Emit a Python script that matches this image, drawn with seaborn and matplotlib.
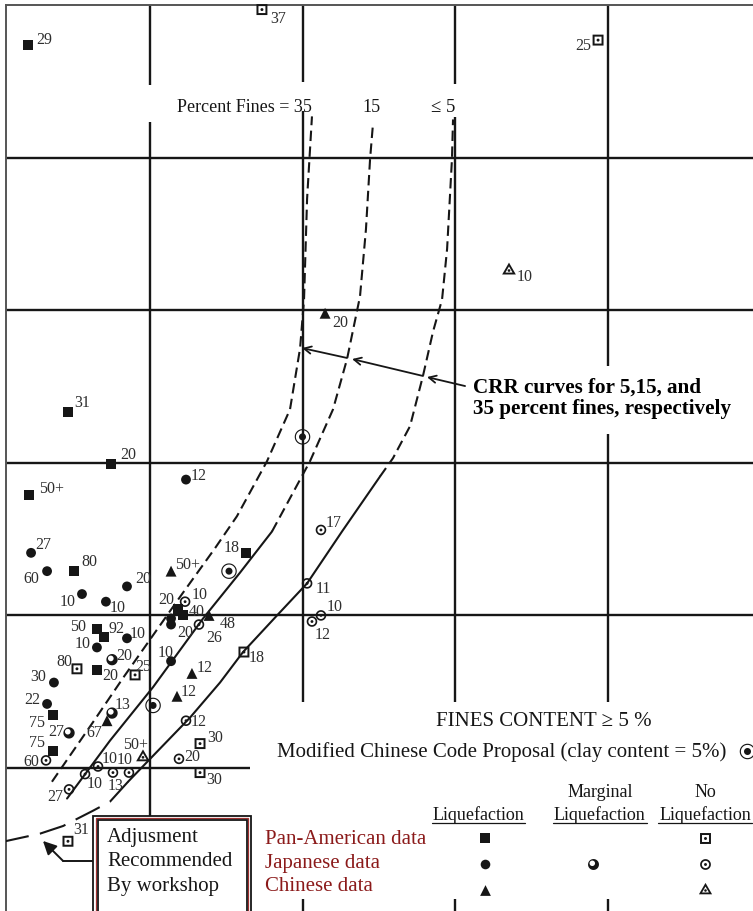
import matplotlib
matplotlib.use('Agg')
import numpy as np
import pandas as pd
import matplotlib.pyplot as plt
from matplotlib.path import Path
from matplotlib.patches import Rectangle
import seaborn as sns

# ---- values: (N1)60, CRR, fines content label ----
pan_liq_n = [2.00, 4.62, 7.44, 2.07, 5.02, 16.30, 11.84, 12.16, 6.52, 6.98, 6.52, 3.64, 3.64]
pan_liq_crr = [0.574, 0.333, 0.299, 0.279, 0.229, 0.241, 0.204, 0.200, 0.191, 0.186, 0.164, 0.135, 0.111]
pan_liq_fc = ["29", "31", "20", "50+", "80", "18", "20", "40", "50", "92", "20", "75", "75"]

pan_no_n = [17.34, 39.38, 5.21, 9.02, 16.16, 13.28, 13.28, 4.62]
pan_no_crr = [0.597, 0.577, 0.165, 0.161, 0.176, 0.116, 0.097, 0.052]
pan_no_fc = ["37", "25", "80", "25", "18", "30", "30", "31"]

jp_liq_n = [12.36, 2.20, 3.25, 8.49, 5.54, 7.11, 11.38, 11.38, 8.49, 6.52, 11.38, 3.70, 3.25]
jp_liq_crr = [0.289, 0.241, 0.229, 0.219, 0.214, 0.209, 0.198, 0.194, 0.185, 0.179, 0.170, 0.156, 0.142]
jp_liq_fc = ["12", "27", "60", "20", "10", "10", "", "20", "10", "10", "10", "30", "22"]

jp_marg_n = [7.51, 7.51, 4.69]
jp_marg_crr = [0.171, 0.136, 0.123]
jp_marg_fc = ["20", "13", "27"]

jp_no_n = [21.21, 20.30, 21.21, 20.62, 12.30, 13.21, 3.18, 12.36, 6.59, 5.74, 7.57, 8.62, 11.90, 4.69]
jp_no_crr = [0.256, 0.221, 0.200, 0.196, 0.209, 0.194, 0.105, 0.131, 0.101, 0.096, 0.097, 0.097, 0.106, 0.086]
jp_no_fc = ["17", "11", "10", "12", "10", "26", "60", "12", "10", "10", "13", "10", "20", "27"]

cn_liq_n = [21.48, 11.38, 13.87, 12.75, 11.77, 7.18]
cn_liq_crr = [0.398, 0.229, 0.200, 0.162, 0.147, 0.131]
cn_liq_fc = ["20", "50+", "48", "12", "12", "67"]

cn_no_n = [33.54, 9.54]
cn_no_crr = [0.426, 0.107]
cn_no_fc = ["10", "50+"]

code_n = [20.0, 15.18, 10.20]
code_crr = [0.317, 0.229, 0.141]

# CRR curves (35 %, 15 %, <=5 % fines) and the workshop adjustment
fc35_n = [3.57, 6.26, 8.30, 10.20, 12.03, 14.26, 15.70, 17.67, 19.18, 19.84, 20.10, 20.30, 20.62]
fc35_crr = [0.091, 0.130, 0.160, 0.187, 0.213, 0.244, 0.265, 0.301, 0.335, 0.375, 0.407, 0.473, 0.527]
fc15_solid_n = [4.56, 7.38, 10.20, 13.48, 15.90, 18.00]
fc15_solid_crr = [0.080, 0.118, 0.153, 0.198, 0.228, 0.255]
fc15_dash_n = [18.00, 20.49, 22.00, 22.92, 23.77, 24.16, 24.43, 24.62]
fc15_dash_crr = [0.255, 0.301, 0.335, 0.368, 0.409, 0.453, 0.499, 0.522]
fc5_solid_n = [8.56, 10.20, 12.62, 14.59, 16.10, 18.33, 20.30, 22.59, 25.08]
fc5_solid_crr = [0.091, 0.108, 0.133, 0.156, 0.176, 0.200, 0.221, 0.255, 0.291]
fc5_dash_n = [25.08, 25.93, 27.05, 27.90, 28.56, 29.15, 29.48, 29.80, 29.87]
fc5_dash_crr = [0.291, 0.303, 0.324, 0.357, 0.386, 0.407, 0.440, 0.499, 0.525]
adj_n = [8.56, 7.38, 6.26, 4.30, 2.79, 0.50]
adj_crr = [0.091, 0.078, 0.072, 0.062, 0.057, 0.052]

# label placement (pixels right, pixels down from the marker)
label_offsets = {
    "pan_liq": [(16, -6), (14, -10), (17, -10), (22, -7), (15, -10), (-14, -6), (-12, -10),
                (14, -4), (-19, -3), (13, -9), (13, 5), (-16, 7), (-16, -9)],
    "pan_no": [(16, 8), (-15, 5), (-13, -8), (8, -9), (13, 5), (15, -7), (14, 6), (13, -12)],
    "jp_liq": [(13, -5), (12, -9), (-16, 7), (16, -8), (-14, 7), (12, 5), (0, 0), (14, 7),
               (11, -5), (-14, -4), (-5, -9), (-16, -7), (-15, -5)],
    "jp_marg": [(12, -5), (11, -9), (-13, -2)],
    "jp_no": [(13, -8), (16, 5), (14, -9), (11, 12), (15, -8), (15, 12), (-15, 1), (13, 0),
              (12, -8), (10, 9), (3, 12), (-4, -14), (13, -3), (-14, 7)],
    "cn_liq": [(15, 9), (17, -7), (19, 8), (13, -6), (12, -5), (-13, 11)],
    "cn_no": [(16, 5), (-7, -13)],
}


def ring(n, r, cx=0.0, cy=0.0, rot=90.0, cw=False):
    t = np.deg2rad(rot) + np.linspace(0, 2 * np.pi, n, endpoint=False)
    if cw:
        t = t[::-1]
    return np.column_stack([cx + r * np.cos(t), cy + r * np.sin(t)])


def compound(*rings):
    verts, codes = [], []
    for pts in rings:
        verts.extend(pts.tolist())
        verts.append(pts[0].tolist())
        codes.extend([Path.MOVETO] + [Path.LINETO] * (len(pts) - 1) + [Path.CLOSEPOLY])
    return Path(verts, codes)


sq_dot = compound(ring(4, 1.414, rot=45), ring(4, 0.90, rot=45, cw=True), ring(32, 0.27))
circ_dot = compound(ring(48, 1.0), ring(48, 0.68, cw=True), ring(32, 0.27))
tri_dot = compound(ring(3, 1.0), ring(3, 0.52, cw=True), ring(24, 0.17))
bullseye = compound(ring(64, 1.0), ring(64, 0.85, cw=True), ring(48, 0.45))
marginal = compound(ring(48, 1.0), ring(48, 0.5, cx=-0.22, cy=0.22, cw=True))

sns.set_style("white")
plt.rcParams["font.family"] = ["Liberation Serif", "DejaVu Serif"]
INK = "#161616"

fig = plt.figure(figsize=(7.53, 9.12), dpi=100)
ax = fig.add_axes([6 / 753, 0, 747 / 753, 906 / 912])
ax.set_xlim(0.557, 49.54)
ax.set_ylim(0.0063, 0.6)
ax.set_xticks([])
ax.set_yticks([])
for side in ("right", "bottom"):
    ax.spines[side].set_visible(False)
for side in ("left", "top"):
    ax.spines[side].set_color("#555555")
    ax.spines[side].set_linewidth(1.4)

# grid, broken where the labels and the legend sit
vx = [10, 10, 20, 20, 20, 30, 30, 30, 40, 40, 40]
vlo = [0.0686, 0.5476, 0.1433, 0.5495, 0.0, 0.1433, 0.5482, 0.0, 0.1433, 0.3634, 0.0]
vhi = [0.5233, 0.60, 0.5305, 0.60, 0.0142, 0.5266, 0.60, 0.0142, 0.3189, 0.60, 0.0142]
ax.vlines(vx, vlo, vhi, color=INK, lw=1.7, zorder=1)
ax.hlines([0.2, 0.3, 0.4, 0.5], 0.557, 49.6, color=INK, lw=1.7, zorder=1)
ax.hlines(0.1, 0.557, 16.56, color=INK, lw=1.7, zorder=1)

# curves
dash = (0, (5, 2.6))
long_dash = (0, (13, 5.5))
curves = [
    (fc35_n, fc35_crr, dash),
    (fc15_solid_n, fc15_solid_crr, "-"),
    (fc15_dash_n, fc15_dash_crr, dash),
    (fc5_solid_n, fc5_solid_crr, "-"),
    (fc5_dash_n, fc5_dash_crr, dash),
    (adj_n, adj_crr, long_dash),
]
for cn, cc, ls in curves:
    cdf = pd.DataFrame({"N1_60": cn, "CRR": cc})
    sns.lineplot(data=cdf, x="N1_60", y="CRR", sort=False, estimator=None, color=INK,
                 linewidth=1.5, linestyle=ls, ax=ax, zorder=3)

# data points
groups = [
    ("pan_liq", pan_liq_n, pan_liq_crr, pan_liq_fc, "s", 52),
    ("pan_no", pan_no_n, pan_no_crr, pan_no_fc, sq_dot, 62),
    ("jp_liq", jp_liq_n, jp_liq_crr, jp_liq_fc, "o", 50),
    ("jp_marg", jp_marg_n, jp_marg_crr, jp_marg_fc, marginal, 66),
    ("jp_no", jp_no_n, jp_no_crr, jp_no_fc, circ_dot, 58),
    ("cn_liq", cn_liq_n, cn_liq_crr, cn_liq_fc, "^", 62),
    ("cn_no", cn_no_n, cn_no_crr, cn_no_fc, tri_dot, 130),
]
for key, gn, gc, gf, mk, size in groups:
    gdf = pd.DataFrame({"N1_60": gn, "CRR": gc, "fines": gf})
    sns.scatterplot(data=gdf, x="N1_60", y="CRR", marker=mk, s=size, color=INK,
                    edgecolor="none", linewidth=0, ax=ax, legend=False, zorder=6, clip_on=False)
    for (x, y, t), (dx, dy) in zip(gdf.itertuples(index=False), label_offsets[key]):
        if t:
            ax.annotate(t, (x, y), xytext=(dx, -dy), textcoords="offset pixels",
                        ha="center", va="center", fontsize=11.5, color="#2e2e2e", zorder=7)

code_df = pd.DataFrame({"N1_60": code_n, "CRR": code_crr})
sns.scatterplot(data=code_df, x="N1_60", y="CRR", marker=bullseye, s=125, color=INK,
                edgecolor="none", linewidth=0, ax=ax, legend=False, zorder=6)
ax.set_xlabel("")
ax.set_ylabel("")

# curve labels
ax.text(20.62, 0.5338, "Percent Fines = 35", ha="right", va="center", fontsize=13, color=INK)
ax.text(24.5, 0.5338, "15", ha="center", va="center", fontsize=13, color=INK)
ax.text(29.2, 0.5338, "\u2264 5", ha="center", va="center", fontsize=13.5, color=INK)

ax.text(31.18, 0.3430, "CRR curves for 5,15, and\n35 percent fines, respectively",
        ha="left", va="center", fontsize=15.2, fontweight="bold", linespacing=1.05, color="black")
arrow_kw = dict(arrowstyle="->", lw=1.3, color=INK, shrinkA=0, shrinkB=0, mutation_scale=13)
for (x0, y0), (x1, y1) in [((30.66, 0.3503), (28.16, 0.3562)),
                           ((27.90, 0.3569), (23.25, 0.3680)),
                           ((22.92, 0.3687), (19.97, 0.3752))]:
    ax.annotate("", xy=(x1, y1), xytext=(x0, y0), arrowprops=arrow_kw, zorder=5)

# legend block
ax.text(35.84, 0.131, "FINES CONTENT \u2265 5 %", ha="center", va="center", fontsize=15, color=INK)
ax.text(18.33, 0.1111, "Modified Chinese Code Proposal (clay content = 5%)",
        ha="left", va="center", fontsize=15, color=INK)
ax.scatter([49.15], [0.1111], marker=bullseye, s=125, color=INK, linewidths=0, clip_on=False, zorder=6)

ax.text(31.54, 0.0699, "Liquefaction", ha="center", va="center", fontsize=13, color=INK)
ax.text(39.5, 0.0843, "Marginal", ha="center", va="center", fontsize=13, color=INK)
ax.text(39.5, 0.0699, "Liquefaction", ha="center", va="center", fontsize=13, color=INK)
ax.text(46.4, 0.0843, "No", ha="center", va="center", fontsize=13, color=INK)
ax.text(46.4, 0.0699, "Liquefaction", ha="center", va="center", fontsize=13, color=INK)
for a, b in [(28.49, 34.59), (36.43, 42.59), (43.31, 49.48)]:
    ax.plot([a, b], [0.0640, 0.0640], color=INK, lw=0.9, clip_on=False)

red = "#8b1a1a"
for yy, name in [(0.0541, "Pan-American data"), (0.0384, "Japanese data"), (0.0227, "Chinese data")]:
    ax.text(17.54, yy, name, ha="left", va="center", fontsize=15, color=red)

col_liq, col_marg, col_no = 31.97, 39.05, 46.39
ax.scatter([col_liq], [0.0541], marker="s", s=48, color=INK, linewidths=0, zorder=6)
ax.scatter([col_no], [0.0541], marker=sq_dot, s=62, color=INK, linewidths=0, zorder=6)
ax.scatter([col_liq], [0.0371], marker="o", s=48, color=INK, linewidths=0, zorder=6)
ax.scatter([col_marg], [0.0371], marker=marginal, s=62, color=INK, linewidths=0, zorder=6)
ax.scatter([col_no], [0.0371], marker=circ_dot, s=60, color=INK, linewidths=0, zorder=6)
ax.scatter([col_liq], [0.0200], marker="^", s=60, color=INK, linewidths=0, zorder=6)
ax.scatter([col_no], [0.0200], marker=tri_dot, s=120, color=INK, linewidths=0, zorder=6)

# workshop adjustment box
ax.add_patch(Rectangle((6.26, -0.01), 10.34, 0.0786, facecolor="white", edgecolor=INK,
                       lw=1.3, zorder=8, clip_on=False))
ax.add_patch(Rectangle((6.44, -0.01), 10.01, 0.0774, facecolor="none", edgecolor="#a03030",
                       lw=0.9, zorder=8, clip_on=False))
ax.add_patch(Rectangle((6.57, -0.01), 9.77, 0.0761, facecolor="none", edgecolor=INK,
                       lw=1.3, zorder=8, clip_on=False))
for yy, line in [(0.0548, "Adjusment"), (0.0391, "Recommended"), (0.0227, "By workshop")]:
    ax.text(7.18, yy, line, ha="left", va="center", fontsize=15, color=INK, zorder=9)
ax.plot([6.26, 4.30], [0.0391, 0.0391], color=INK, lw=1.4, zorder=7)
ax.annotate("", xy=(2.98, 0.0522), xytext=(4.30, 0.0391),
            arrowprops=dict(arrowstyle="-|>", lw=1.4, color=INK, shrinkA=0, shrinkB=0,
                            mutation_scale=20), zorder=7)

fig.savefig("out.png", dpi=100)
